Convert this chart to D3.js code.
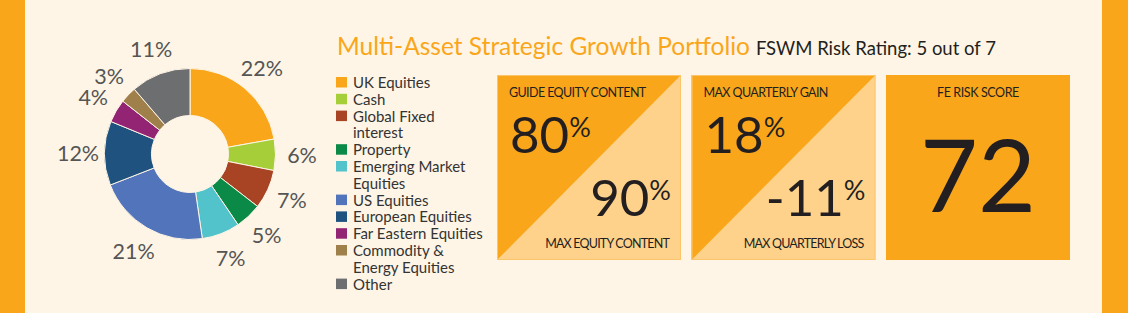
<!DOCTYPE html>
<html lang="en">
<head>
    <meta charset="UTF-8">
    <title>Multi-Asset Strategic Growth Portfolio</title>
    <script src="https://d3js.org/d3.v7.min.js"></script>
    <style>
        body { margin: 0; background: #fef5e6; }
        text { font-family: Lato, "Open Sans", sans-serif; }
    </style>
</head>
<body>
<script>
    // asset split, clockwise from 12 o'clock
    const categories = ["UK Equities", "Cash", "Global Fixed interest", "Property", "Emerging Market Equities",
        "US Equities", "European Equities", "Far Eastern Equities", "Commodity & Energy Equities", "Other"]
    const weights = [22.2, 5.9, 7.4, 5.0, 7.2, 21.4, 12.1, 4.4, 3.1, 11.3]
    const colours = ["#faa61a", "#a6ce39", "#a84424", "#0b8a47", "#52c3cb",
        "#5174ba", "#1f527f", "#922473", "#a0804a", "#6d6e70"]

    const title = "Multi-Asset Strategic Growth Portfolio"
    const subtitle = "FSWM Risk Rating: 5 out of 7"

    // the two split tiles
    const topLabels = ["GUIDE EQUITY CONTENT", "MAX QUARTERLY GAIN"]
    const topValues = ["80", "18"]
    const bottomValues = ["90", "-11"]
    const bottomLabels = ["MAX EQUITY CONTENT", "MAX QUARTERLY LOSS"]
    const scoreLabel = "FE RISK SCORE"
    const riskScore = 72

    const W = 1128, H = 313
    const orange = "#faa61a", light = "#fed28b", ink = "#231f20"

    const svg = d3.select("body").append("svg")
        .attr("width", W)
        .attr("height", H)

    svg.append("rect").attr("width", W).attr("height", H).attr("fill", "#fef5e6")
    svg.append("rect").attr("x", 0).attr("width", 25).attr("height", H).attr("fill", orange)
    svg.append("rect").attr("x", 1102).attr("width", W - 1102).attr("height", H).attr("fill", orange)

    // donut
    const cx = 190, cy = 154
    const pie = d3.pie().sort(null).value(d => d)
    const arc = d3.arc().innerRadius(38.5).outerRadius(85.5)
    const labelArc = d3.arc().innerRadius(112).outerRadius(112)
    const arcs = pie(weights)

    const donut = svg.append("g").attr("transform", `translate(${cx}, ${cy})`)
    donut.selectAll("path")
        .data(arcs)
        .enter()
        .append("path")
        .attr("d", arc)
        .attr("fill", (d, i) => colours[i])
        .attr("stroke", "#fef5e6")
        .attr("stroke-width", 1)

    donut.selectAll("text")
        .data(arcs)
        .enter()
        .append("text")
        .attr("transform", d => `translate(${labelArc.centroid(d)})`)
        .attr("text-anchor", "middle")
        .attr("dy", "0.36em")
        .attr("font-size", 21.5)
        .attr("fill", "#555")
        .text(d => Math.round(d.data) + "%")

    // heading
    const head = svg.append("text")
        .attr("x", 337)
        .attr("y", 55)
    head.append("tspan")
        .attr("font-size", 24.5)
        .attr("fill", orange)
        .text(title)
    head.append("tspan")
        .attr("font-size", 18.5)
        .attr("fill", ink)
        .attr("dx", 6)
        .text(subtitle)

    // legend, wrapped to a narrow column
    const legend = svg.append("g").attr("transform", "translate(336, 0)")
    const lineH = 16.8
    let line = 0
    categories.forEach((name, i) => {
        legend.append("rect")
            .attr("x", 0)
            .attr("y", 77 + line * lineH)
            .attr("width", 11)
            .attr("height", 10.5)
            .attr("fill", colours[i])

        const words = name.split(" ")
        const t = legend.append("text")
            .attr("font-size", 15)
            .attr("fill", "#333")
        let tspan = t.append("tspan").attr("x", 17).attr("y", 88 + line * lineH)
        let current = []
        words.forEach(w => {
            current.push(w)
            tspan.text(current.join(" "))
            if (tspan.node().getComputedTextLength() > 132 && current.length > 1) {
                current.pop()
                tspan.text(current.join(" "))
                current = [w]
                line++
                tspan = t.append("tspan").attr("x", 17).attr("y", 88 + line * lineH).text(w)
            }
        })
        line++
    })

    // tiles
    const boxY = 75, boxH = 185
    const xBox = d3.scaleBand().domain([0, 1, 2]).range([497, 1070]).paddingInner(0.054)
    const bw = xBox.bandwidth()

    topLabels.forEach((lab, i) => {
        const x0 = xBox(i)
        const g = svg.append("g").attr("transform", `translate(${x0}, ${boxY})`)
        g.append("rect").attr("width", bw).attr("height", boxH).attr("fill", light)
        g.append("path")
            .attr("d", `M0,0H${bw}L0,${boxH}Z`)
            .attr("fill", orange)
        g.append("rect").attr("x", 0.5).attr("y", 0.5).attr("width", bw - 1).attr("height", boxH - 1)
            .attr("fill", "none").attr("stroke", "#fdc56a").attr("stroke-width", 1)

        g.append("text")
            .attr("x", 12)
            .attr("y", 22)
            .attr("font-size", 12.5)
            .attr("letter-spacing", -0.6)
            .attr("fill", ink)
            .text(lab)

        const top = g.append("text")
            .attr("x", 13)
            .attr("y", 78)
            .attr("fill", ink)
        top.append("tspan").attr("font-size", 51).text(topValues[i])
        top.append("tspan").attr("font-size", 27).attr("dy", -16).text("%")

        const bottom = g.append("text")
            .attr("x", bw - 10)
            .attr("y", 141)
            .attr("text-anchor", "end")
            .attr("fill", ink)
        bottom.append("tspan").attr("font-size", 51).text(bottomValues[i])
        bottom.append("tspan").attr("font-size", 27).attr("dy", -16).text("%")

        g.append("text")
            .attr("x", bw - 12)
            .attr("y", 173)
            .attr("text-anchor", "end")
            .attr("font-size", 12.5)
            .attr("letter-spacing", -0.8)
            .attr("fill", ink)
            .text(bottomLabels[i])
    })

    const sg = svg.append("g").attr("transform", `translate(${xBox(2)}, ${boxY})`)
    sg.append("rect").attr("width", bw).attr("height", boxH).attr("fill", orange)
    sg.append("text")
        .attr("x", bw / 2)
        .attr("y", 22)
        .attr("text-anchor", "middle")
        .attr("font-size", 12.5)
        .attr("letter-spacing", -0.4)
        .attr("fill", ink)
        .text(scoreLabel)
    sg.append("text")
        .attr("x", bw / 2)
        .attr("y", 137)
        .attr("text-anchor", "middle")
        .attr("font-size", 100)
        .attr("fill", ink)
        .text(riskScore)
</script>
</body>
</html>
